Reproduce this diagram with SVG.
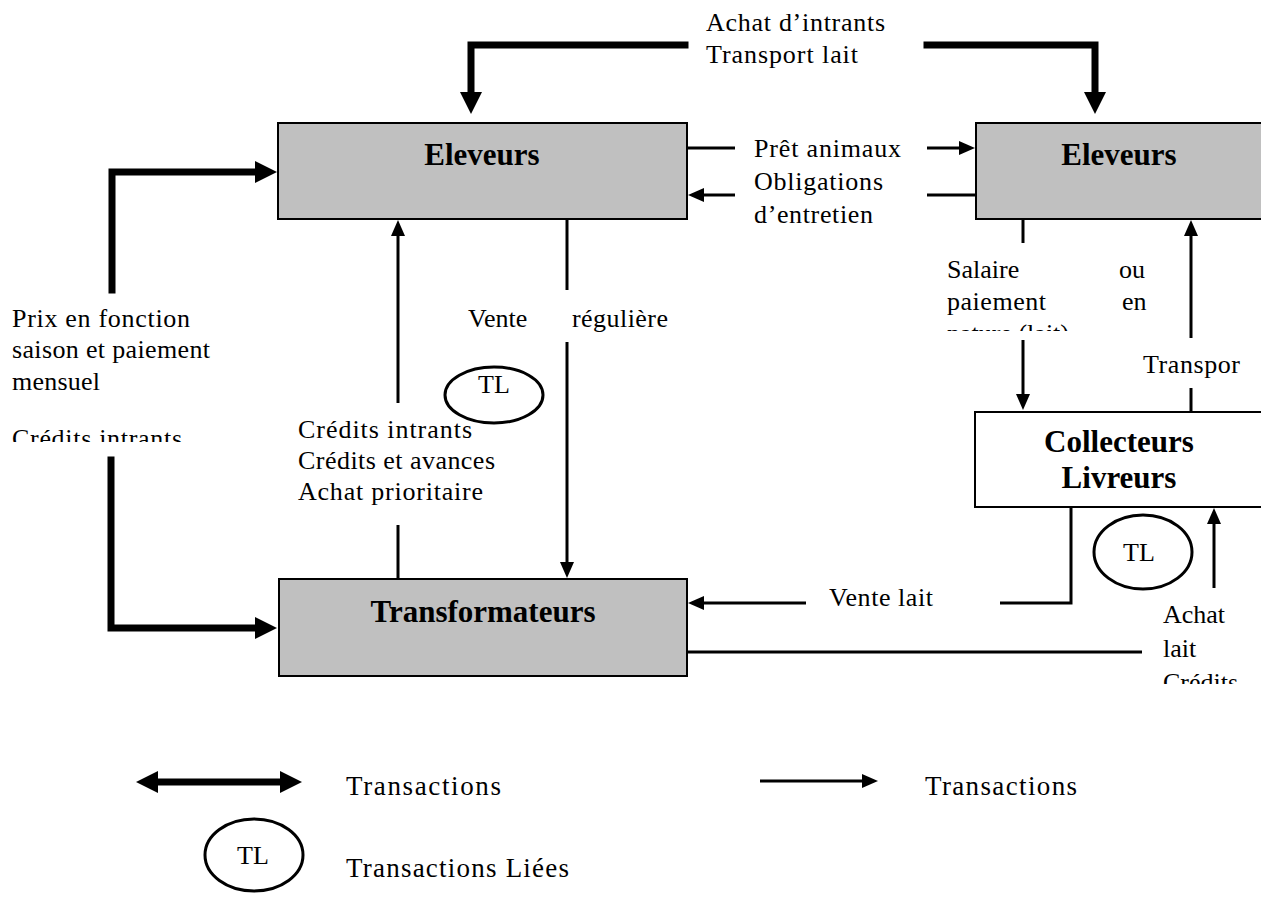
<svg xmlns="http://www.w3.org/2000/svg" width="1261" height="899" viewBox="0 0 1261 899">
<style>
.t{font-family:"Liberation Serif","Times New Roman",serif;font-size:26px;fill:#000}
.lg{font-family:"Liberation Serif","Times New Roman",serif;font-size:27px;fill:#000}
.b{font-family:"Liberation Serif","Times New Roman",serif;font-weight:bold;font-size:31px;fill:#000;text-anchor:middle}
.box{fill:#c0c0c0;stroke:#000;stroke-width:2}
.wbox{fill:#fff;stroke:#000;stroke-width:2}
.thin{stroke:#000;stroke-width:3;fill:none}
.thick{stroke:#000;stroke-width:7;fill:none;stroke-linejoin:miter;stroke-linecap:square}
.tl{fill:#fff;stroke:#000;stroke-width:3}
.c{text-anchor:middle}
</style>
<defs>
<marker id="ah" markerUnits="userSpaceOnUse" viewBox="0 0 16 14" refX="1" refY="7" markerWidth="16" markerHeight="14" orient="auto-start-reverse"><path d="M0,0 L16,7 L0,14 Z" fill="#000"/></marker>
<marker id="AH" markerUnits="userSpaceOnUse" viewBox="0 0 22 22" refX="1" refY="11" markerWidth="22" markerHeight="22" orient="auto-start-reverse"><path d="M0,0 L22,11 L0,22 Z" fill="#000"/></marker>
<clipPath id="clipL"><rect x="0" y="400" width="260" height="42"/></clipPath>
<clipPath id="clipS"><rect x="930" y="300" width="230" height="31"/></clipPath>
<clipPath id="clipR"><rect x="1150" y="640" width="111" height="44"/></clipPath>
</defs>
<rect width="1261" height="899" fill="#fff"/>

<g id="connectors">
<path class="thick" d="M685,45 H471 V93" marker-end="url(#AH)"/>
<path class="thick" d="M927,45 H1095 V93" marker-end="url(#AH)"/>
<path class="thick" d="M112,290 V172 H256" marker-end="url(#AH)"/>
<path class="thick" d="M111,460 V628 H256" marker-end="url(#AH)"/>
<path class="thin" d="M687,148 H735"/>
<path class="thin" d="M927,148 H960" marker-end="url(#ah)"/>
<path class="thin" d="M976,195 H927"/>
<path class="thin" d="M735,195 H703" marker-end="url(#ah)"/>
<path class="thin" d="M567,219 V290"/>
<path class="thin" d="M567,342 V563" marker-end="url(#ah)"/>
<path class="thin" d="M398,579 V525"/>
<path class="thin" d="M398,403 V235" marker-end="url(#ah)"/>
<path class="thin" d="M1023,219 V243"/>
<path class="thin" d="M1023,340 V395" marker-end="url(#ah)"/>
<path class="thin" d="M1191,412 V388"/>
<path class="thin" d="M1191,338 V235" marker-end="url(#ah)"/>
<path class="thin" d="M1071,507 V603 H1000"/>
<path class="thin" d="M806,603 H703" marker-end="url(#ah)"/>
<path class="thin" d="M1214,588 V523" marker-end="url(#ah)"/>
<path class="thin" d="M687,652 H1142"/>
</g>

<g id="eleveurs-left">
<rect class="box" x="278" y="123" width="409" height="96"/>
<text class="b" x="482" y="165">Eleveurs</text>
</g>
<g id="eleveurs-right">
<rect class="box" x="976" y="123" width="290" height="96"/>
<text class="b" x="1119" y="165">Eleveurs</text>
</g>
<g id="collecteurs">
<rect class="wbox" x="975" y="412" width="290" height="95"/>
<text class="b" x="1119" y="452">Collecteurs</text>
<text class="b" x="1119" y="488">Livreurs</text>
</g>
<g id="transformateurs">
<rect class="box" x="279" y="579" width="408" height="97"/>
<text class="b" x="483" y="622">Transformateurs</text>
</g>
<g id="tl-middle">
<ellipse class="tl" cx="494" cy="395" rx="49" ry="28"/>
<text class="t c" x="494" y="393">TL</text>
</g>
<g id="tl-right">
<ellipse class="tl" cx="1143" cy="552" rx="49" ry="37"/>
<text class="t c" x="1139" y="561">TL</text>
</g>

<g id="labels">
<text class="t" x="706" y="31" textLength="179">Achat d’intrants</text>
<text class="t" x="706" y="63" textLength="152">Transport lait</text>
<text class="t" x="754" y="157" textLength="147">Prêt animaux</text>
<text class="t" x="754" y="190" textLength="129">Obligations</text>
<text class="t" x="754" y="223" textLength="119">d’entretien</text>
<text class="t" x="12" y="327" textLength="178">Prix en fonction</text>
<text class="t" x="12" y="358" textLength="198">saison et paiement</text>
<text class="t" x="12" y="390" textLength="88">mensuel</text>
<text class="t" x="12" y="447" textLength="170" clip-path="url(#clipL)">Crédits intrants</text>
<text class="t" x="468" y="327">Vente</text>
<text class="t" x="572" y="327" textLength="96">régulière</text>
<text class="t" x="298" y="438" textLength="174">Crédits intrants</text>
<text class="t" x="298" y="469" textLength="197">Crédits et avances</text>
<text class="t" x="298" y="500" textLength="185">Achat prioritaire</text>
<text class="t" x="947" y="278">Salaire</text>
<text class="t" x="1119" y="278">ou</text>
<text class="t" x="947" y="310" textLength="99">paiement</text>
<text class="t" x="1122" y="310">en</text>
<text class="t" x="947" y="342" clip-path="url(#clipS)">nature (lait)</text>
<text class="t" x="1143" y="373" textLength="97">Transpor</text>
<text class="t" x="829" y="606" textLength="104">Vente lait</text>
<text class="t" x="1163" y="623">Achat</text>
<text class="t" x="1163" y="657">lait</text>
<text class="t" x="1163" y="691" clip-path="url(#clipR)">Crédits</text>
</g>

<g id="legend">
<path class="thick" style="stroke-linecap:butt" d="M157,782 H281" marker-start="url(#AH)" marker-end="url(#AH)"/>
<text class="lg" x="346" y="795" textLength="155">Transactions</text>
<path class="thin" d="M760,781 H863" marker-end="url(#ah)"/>
<text class="lg" x="925" y="795" textLength="152">Transactions</text>
<ellipse class="tl" cx="254" cy="855" rx="49" ry="36"/>
<text class="t c" x="253" y="864">TL</text>
<text class="lg" x="346" y="877" textLength="223">Transactions Liées</text>
</g>
</svg>
